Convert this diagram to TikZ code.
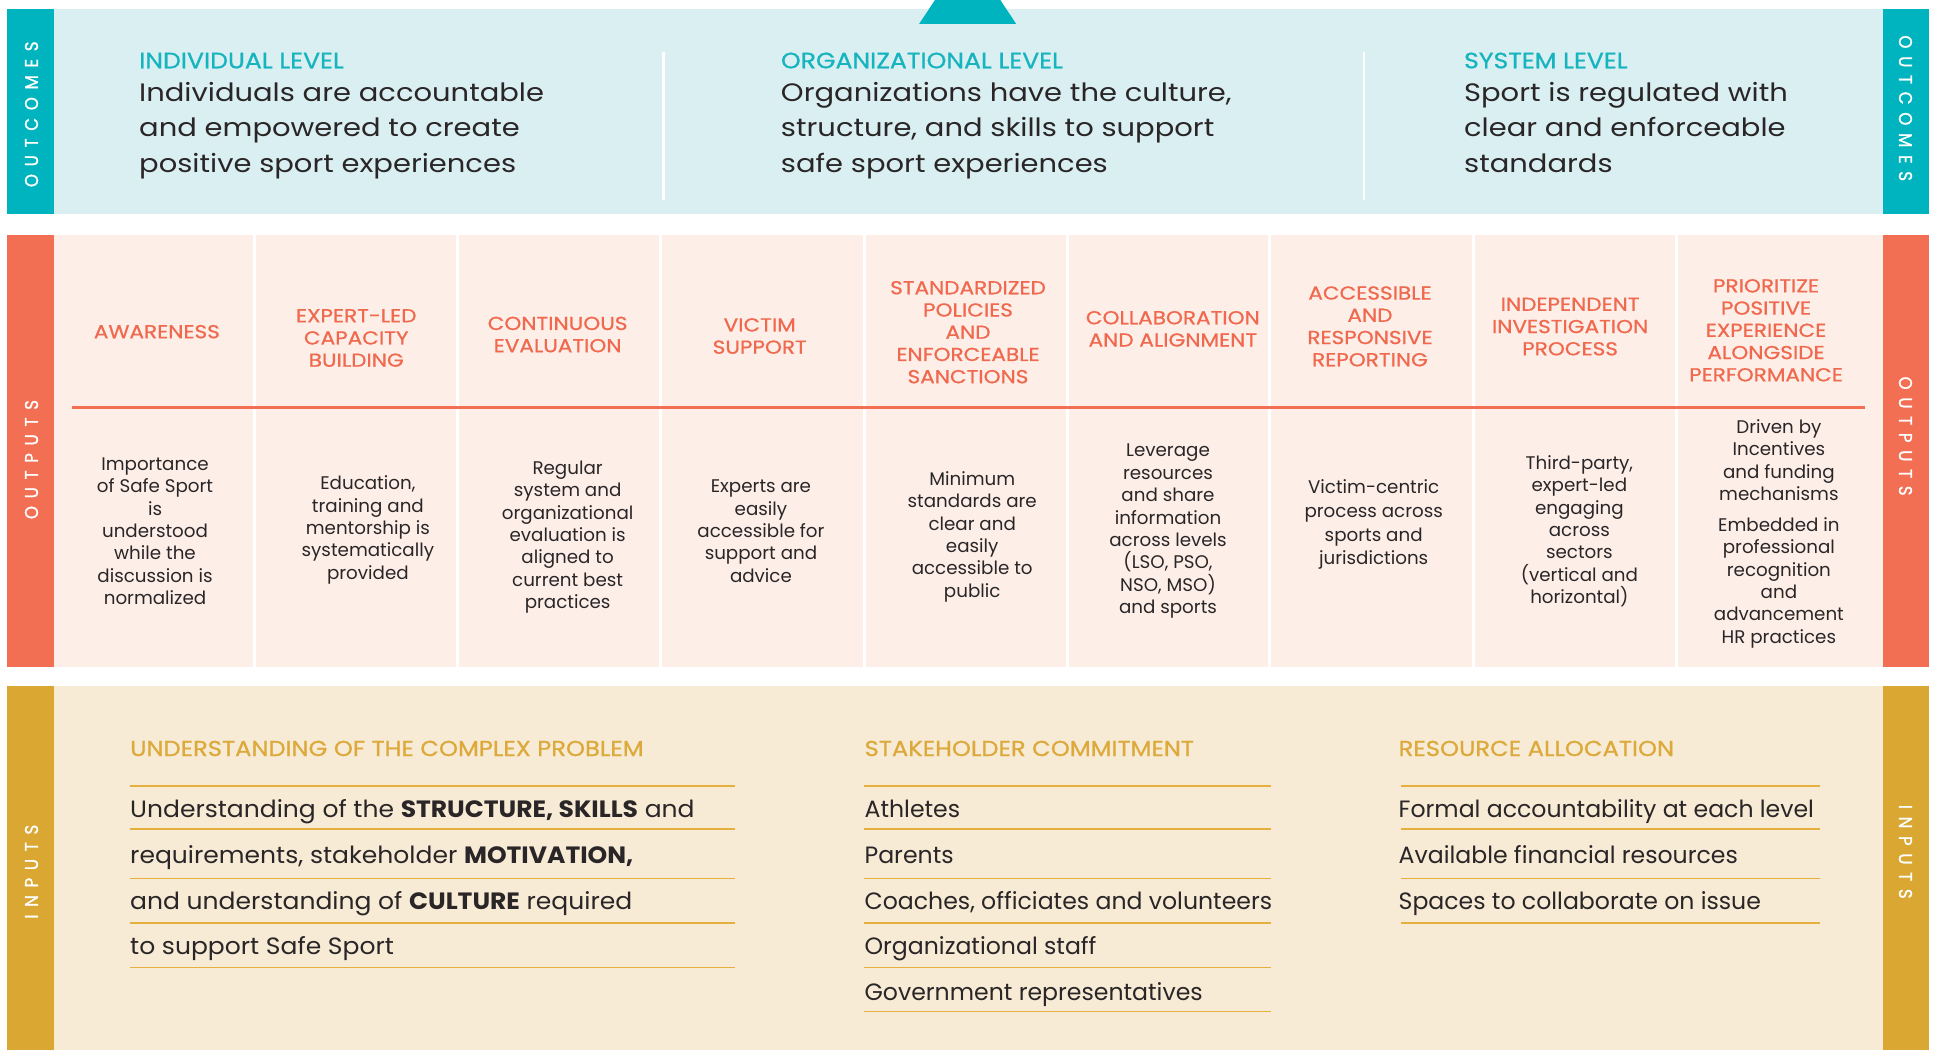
\documentclass[tikz,border=0pt]{standalone}
\usepackage{fontspec}
\setmainfont{Poppins}
\definecolor{tealbar}{HTML}{00B4BF}
\definecolor{tealbg}{HTML}{DAEFF2}
\definecolor{tealtx}{HTML}{16B4BF}
\definecolor{orbar}{HTML}{F26F53}
\definecolor{orbg}{HTML}{FDEFE8}
\definecolor{ortx}{HTML}{F0694E}
\definecolor{goldbar}{HTML}{DBA733}
\definecolor{goldbg}{HTML}{F7EBD6}
\definecolor{goldtx}{HTML}{DDA93A}
\definecolor{goldrule}{HTML}{E5B03F}
\definecolor{ink}{HTML}{2A2627}
\newcommand\trk{\kern 6.2pt}
\begin{document}
\begin{tikzpicture}[x=1pt,y=-1pt,
  sidelabel/.style={text=white,inner sep=0,font=\fontsize{15}{15}\selectfont\addfontfeatures{FakeStretch=0.9,FakeBold=1.2}},
  lvlhead/.style={text=tealtx,anchor=base west,inner sep=0,font=\fontsize{18}{18}\selectfont\addfontfeatures{FakeStretch=1.13,FakeBold=0.8}},
  lvlbody/.style={text=ink,anchor=base west,inner sep=0,font=\fontsize{20.4}{29}\selectfont\addfontfeatures{FakeStretch=1.15}},
  outhead/.style={text=ortx,align=center,inner sep=0,font=\fontsize{15.2}{18}\selectfont\addfontfeatures{FakeStretch=1.15,FakeBold=0.8}},
  outbody/.style={text=ink,align=center,inner sep=0,font=\fontsize{14.8}{18.1}\selectfont},
  inhead/.style={text=goldtx,anchor=base west,inner sep=0,font=\fontsize{17.5}{17.5}\selectfont\addfontfeatures{FakeStretch=1.12,FakeBold=0.8}},
  inbody/.style={text=ink,anchor=base west,inner sep=0,font=\fontsize{19.1}{19.1}\selectfont},
  inwide/.style={inbody,font=\fontsize{19.1}{19.1}\selectfont\addfontfeatures{FakeStretch=1.06}},
  inrule/.style={draw=goldrule,line width=1.2pt},
  divider/.style={draw=white,line width=2.5pt}]

\useasboundingbox (0,0) rectangle (1568,850);
\fill[white] (0,0) rectangle (1568,850);

% ---------------- outcomes band ----------------
\fill[tealbg] (43,7) rectangle (1524,173.5);
\fill[tealbar] (6,7) rectangle (43.5,173.5);
\fill[tealbar] (1524,7) rectangle (1561.5,173.5);
\begin{scope}
  \clip (0,0) rectangle (1568,850);
  \fill[tealbar] (744,19.4) -- (783.3,-40) -- (822.6,19.4) -- cycle;
\end{scope}
\draw[white,line width=2pt] (537,42) -- (537,162);
\draw[white,line width=2pt] (1104,42) -- (1104,162);

\node[sidelabel,rotate=90] (outcL) at (25.5,92.5) {O\trk U\trk T\trk C\trk O\trk M\trk E\trk S};
\node[sidelabel,rotate=-90] (outcR) at (1542.5,87.6) {O\trk U\trk T\trk C\trk O\trk M\trk E\trk S};

\node[lvlhead] (indH) at (112.5,55.3) {INDIVIDUAL LEVEL};
\node[lvlbody] (ind1) at (112.5,82.3) {Individuals are accountable};
\node[lvlbody] (ind2) at (112.5,110.8) {and empowered to create};
\node[lvlbody] (ind3) at (112.5,139.3) {positive sport experiences};

\node[lvlhead] (orgH) at (632,55.3) {ORGANIZATIONAL LEVEL};
\node[lvlbody] (org1) at (632,82.3) {Organizations have the culture,};
\node[lvlbody] (org2) at (632,110.8) {structure, and skills to support};
\node[lvlbody] (org3) at (632,139.3) {safe sport experiences};

\node[lvlhead] (sysH) at (1185,55.3) {SYSTEM LEVEL};
\node[lvlbody] (sys1) at (1185,82.3) {Sport is regulated with};
\node[lvlbody] (sys2) at (1185,110.8) {clear and enforceable};
\node[lvlbody] (sys3) at (1185,139.3) {standards};

% ---------------- outputs band ----------------
\fill[orbg] (43,190) rectangle (1524,540);
\fill[orbar] (6,190) rectangle (43.5,540);
\fill[orbar] (1524,190) rectangle (1561.5,540);
\foreach \sx in {206,370.5,535,699.5,864,1028,1192.5,1357}
  \draw[divider] (\sx,190) -- (\sx,540);
\draw[orbar,line width=2pt] (58,330) -- (1510,330);

\node[sidelabel,rotate=90] (outpL) at (25.5,372) {O\trk U\trk T\trk P\trk U\trk T\trk S};
\node[sidelabel,rotate=-90] (outpR) at (1542.5,353) {O\trk U\trk T\trk P\trk U\trk T\trk S};

\node[outhead] (oh1) at (127,268.5) {AWARENESS};
\node[outhead] (oh2) at (288.4,273.6) {EXPERT-LED\\CAPACITY\\BUILDING};
\node[outhead] (oh3) at (451.4,270.8) {CONTINUOUS\\EVALUATION};
\node[outhead] (oh4) at (615,272) {VICTIM\\SUPPORT};
\node[outhead] (oh5) at (783.6,268.9) {STANDARDIZED\\POLICIES\\AND\\ENFORCEABLE\\SANCTIONS};
\node[outhead] (oh6) at (949.4,266.2) {COLLABORATION\\AND ALIGNMENT};
\node[outhead] (oh7) at (1109,264.2) {ACCESSIBLE\\AND\\RESPONSIVE\\REPORTING};
\node[outhead] (oh8) at (1271,264.4) {INDEPENDENT\\INVESTIGATION\\PROCESS};
\node[outhead] (oh9) at (1429.6,267.4) {PRIORITIZE\\POSITIVE\\EXPERIENCE\\ALONGSIDE\\PERFORMANCE};

\node[outbody] (ob1) at (125.5,430) {Importance\\of Safe Sport\\is\\understood\\while the\\discussion is\\normalized};
\node[outbody] (ob2) at (297.8,429) {Education,\\training and\\mentorship is\\systematically\\provided};
\node[outbody] (ob3) at (459.5,434.8) {Regular\\system and\\organizational\\evaluation is\\aligned to\\current best\\practices};
\node[outbody] (ob4) at (616,430) {Experts are\\easily\\accessible for\\support and\\advice};
\node[outbody] (ob5) at (787,434.6) {Minimum\\standards are\\clear and\\easily\\accessible to\\public};
\node[outbody] (ob6) at (945.5,430) {Leverage\\resources\\and share\\information\\across levels\\(LSO, PSO,\\NSO, MSO)\\and sports};
\node[outbody,font=\fontsize{14.8}{19.3}\selectfont] (ob7) at (1112,424.6) {Victim-centric\\process across\\sports and\\jurisdictions};
\node[outbody] (ob8) at (1278.5,430) {Third-party,\\expert-led\\engaging\\across\\sectors\\(vertical and\\horizontal)};
\node[outbody] (ob9) at (1440,432) {Driven by\\Incentives\\and funding\\mechanisms\\[7pt]Embedded in\\professional\\recognition\\and\\advancement\\HR practices};

% ---------------- inputs band ----------------
\fill[goldbg] (43,555.5) rectangle (1524,850);
\fill[goldbar] (6,555.5) rectangle (43.5,850);
\fill[goldbar] (1524,555.5) rectangle (1561.5,850);

\node[sidelabel,rotate=90] (inpL) at (25.5,705.6) {I\trk N\trk P\trk U\trk T\trk S};
\node[sidelabel,rotate=-90] (inpR) at (1542.5,689.5) {I\trk N\trk P\trk U\trk T\trk S};

% understanding of the complex problem
\node[inhead] (uH) at (105.2,612) {UNDERSTANDING OF THE COMPLEX PROBLEM};
\foreach \ry/\rn in {636.3/a,671/b,711/c,747/d,783/e}{
  \coordinate (ul\rn) at (105.2,\ry);
  \coordinate (ur\rn) at (595,\ry);
  \draw[inrule] (ul\rn) -- (ur\rn);
}
\node[inwide] (u1) at (105.2,661.6) {Understanding of the \textbf{STRUCTURE, SKILLS} and};
\node[inwide] (u2) at (105.2,699) {requirements, stakeholder \textbf{MOTIVATION,}};
\node[inwide] (u3) at (105.2,736.5) {and understanding of \textbf{CULTURE} required};
\node[inwide] (u4) at (105.2,772.3) {to support Safe Sport};

% stakeholder commitment
\node[inhead] (sH) at (699.7,612) {STAKEHOLDER COMMITMENT};
\foreach \ry/\rn in {636.3/a,671/b,711/c,747/d,783/e,819/f}{
  \coordinate (sl\rn) at (699.7,\ry);
  \coordinate (sr\rn) at (1029,\ry);
  \draw[inrule] (sl\rn) -- (sr\rn);
}
\node[inbody] (s1) at (699.7,661.6) {Athletes};
\node[inbody] (s2) at (699.7,699) {Parents};
\node[inbody] (s3) at (699.7,736) {Coaches, officiates and volunteers};
\node[inbody] (s4) at (699.7,772.3) {Organizational staff};
\node[inbody] (s5) at (699.7,809.5) {Government representatives};

% resource allocation
\node[inhead] (rH) at (1132,612) {RESOURCE ALLOCATION};
\foreach \ry/\rn in {636.3/a,671/b,711/c,747/d}{
  \coordinate (rl\rn) at (1134,\ry);
  \coordinate (rr\rn) at (1473,\ry);
  \draw[inrule] (rl\rn) -- (rr\rn);
}
\node[inbody] (r1) at (1132,661.6) {Formal accountability at each level};
\node[inbody] (r2) at (1132,699) {Available financial resources};
\node[inbody] (r3) at (1132,736) {Spaces to collaborate on issue};

\end{tikzpicture}
\end{document}
